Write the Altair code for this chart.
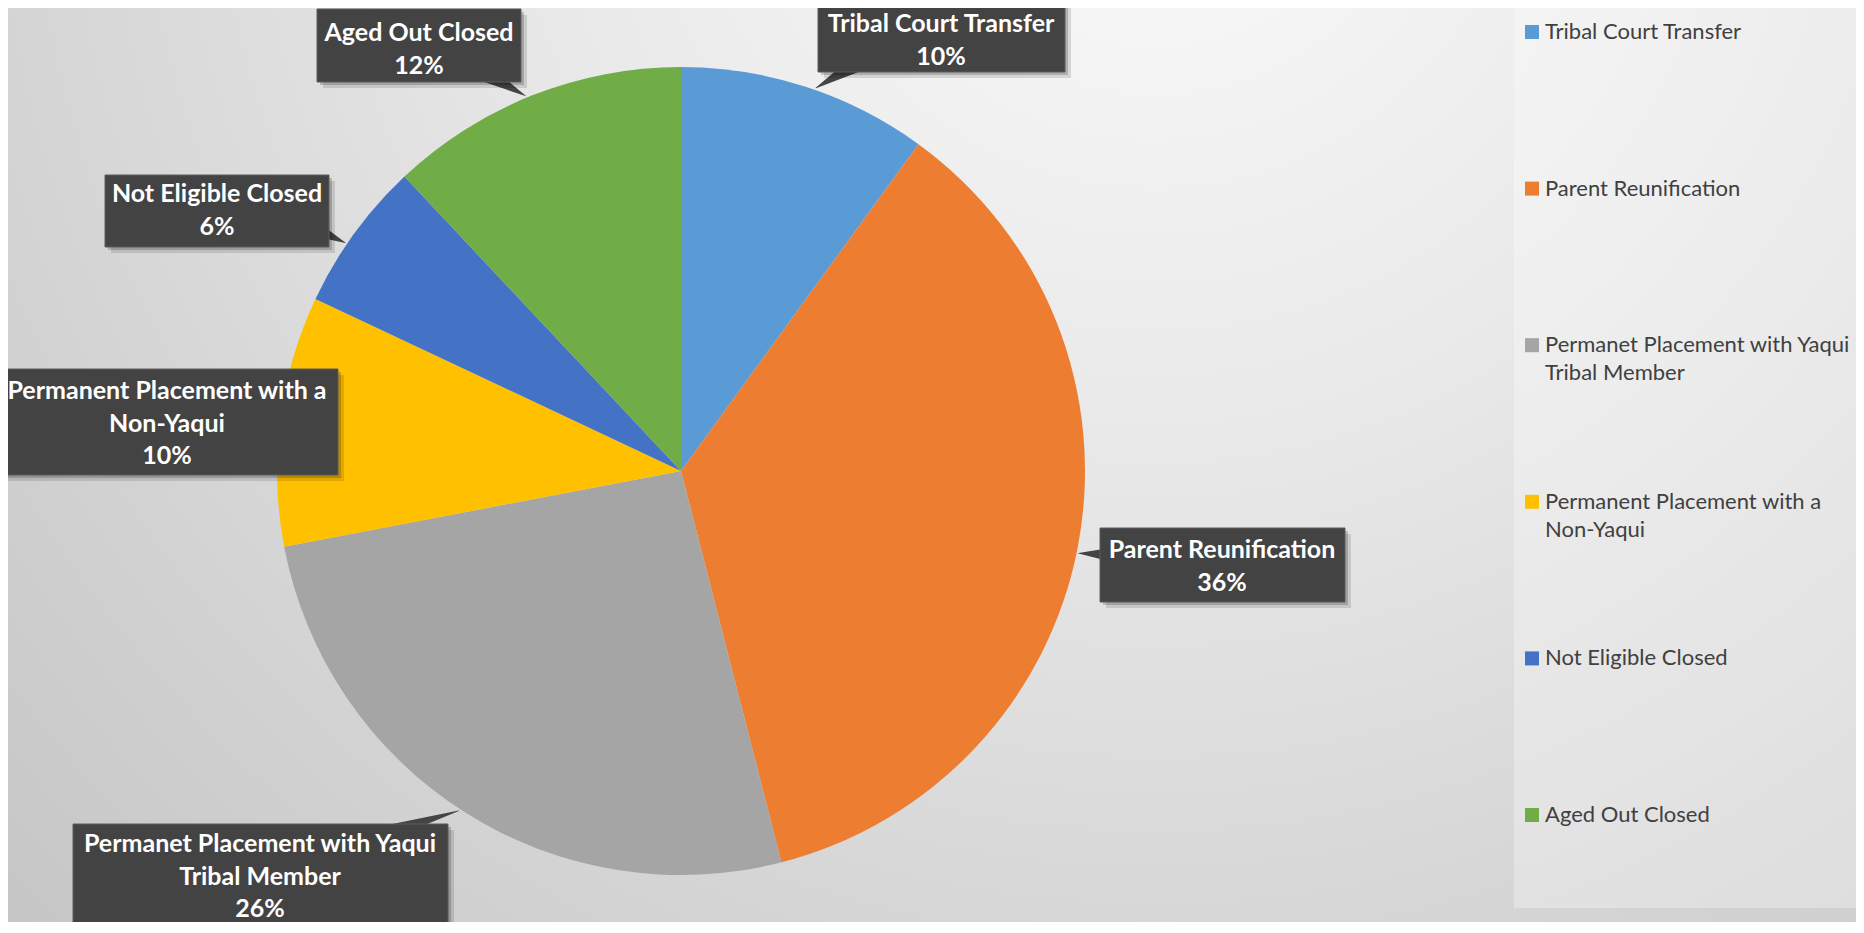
import math
import altair as alt
import pandas as pd

# ---------------- data ----------------
categories = [
    "Tribal Court Transfer",
    "Parent Reunification",
    "Permanet Placement with Yaqui Tribal Member",
    "Permanent Placement with a Non-Yaqui",
    "Not Eligible Closed",
    "Aged Out Closed",
]
counts = [5, 18, 13, 5, 3, 6]
colors = ["#5B9BD5", "#ED7D31", "#A5A5A5", "#FFC000", "#4472C4", "#70AD47"]

# how each name is broken in the data-label boxes and in the legend
box_name_lines = [
    ["Tribal Court Transfer"],
    ["Parent Reunification"],
    ["Permanet Placement with Yaqui", "Tribal Member"],
    ["Permanent Placement with a", "Non-Yaqui"],
    ["Not Eligible Closed"],
    ["Aged Out Closed"],
]
legend_name_lines = [
    ["Tribal Court Transfer"],
    ["Parent Reunification"],
    ["Permanet Placement with Yaqui", "Tribal Member"],
    ["Permanent Placement with a", "Non-Yaqui"],
    ["Not Eligible Closed"],
    ["Aged Out Closed"],
]

# ---------------- layout (page pixels) ----------------
W, H = 1848, 914
OFF = 8  # page margin


def P(v):
    return v - OFF


CX, CY, R = P(681), P(471), 404

# label boxes: x0, x1, y0, y1, text centre x, first-line y
box_layout = [
    (818, 1065, -10, 72, 941, 24),
    (1100, 1345, 528, 602, 1222, 550),
    (73, 448, 824, 960, 260, 844),
    (-10, 338, 369, 475, 167, 391),
    (105, 329, 175, 247, 217, 194),
    (317, 521, 9, 82, 419, 33),
]
BOX_LH = 32.5
# callout pointers: start point inside box, start width, tip angle on pie edge (deg)
pointer_layout = [
    (0, 880, 50, 26, 19.4),
    (1, 1140, 556, 26, 101.7),
    (2, 330, 850, 26, 213.2),
    (4, 300, 222, 22, 304.2),
    (5, 465, 62, 26, 337.5),
]
LEG_SQ_X, LEG_TX_X, LEG_Y0, LEG_STEP, LEG_LH = 1532, 1545, 32, 156.6, 28
PANEL = (1514, 1864, -10, 908)

FONT = "Lato"

# ---------------- frames ----------------
total = sum(counts)
pcts = [f"{round(v / total * 100)}%" for v in counts]

pie_df = pd.DataFrame({"cat": categories, "value": counts, "idx": list(range(len(categories)))})

box_rows, box_txt_rows = [], []
for i, (x0, x1, y0, y1, tx, ty) in enumerate(box_layout):
    box_rows.append({
        "cat": categories[i],
        "px": P(x0), "px2": P(x1), "py": P(y0), "py2": P(y1),
    })
    for j, line in enumerate(box_name_lines[i] + [pcts[i]]):
        box_txt_rows.append({"px": P(tx), "py": P(ty + j * BOX_LH), "txt": line})
box_df = pd.DataFrame(box_rows)
box_txt_df = pd.DataFrame(box_txt_rows)

ptr_rows = []
for i, sx, sy, w, ang in pointer_layout:
    a = math.radians(ang)
    tx = CX + (R + 2) * math.sin(a)
    ty = CY - (R + 2) * math.cos(a)
    ptr_rows.append({"pid": categories[i], "ord": 0, "px": P(sx), "py": P(sy), "w": w})
    ptr_rows.append({"pid": categories[i], "ord": 1, "px": tx, "py": ty, "w": 0.5})
ptr_df = pd.DataFrame(ptr_rows)

leg_sq = pd.DataFrame({
    "cat": categories,
    "px": [P(LEG_SQ_X)] * len(categories),
    "py": [P(LEG_Y0 + i * LEG_STEP) for i in range(len(categories))],
})
leg_txt_rows = []
for i, lines in enumerate(legend_name_lines):
    for j, line in enumerate(lines):
        leg_txt_rows.append({"px": P(LEG_TX_X), "py": P(LEG_Y0 + i * LEG_STEP + j * LEG_LH), "txt": line})
leg_txt = pd.DataFrame(leg_txt_rows)

one = pd.DataFrame({"a": [0]})

# ---------------- encodings ----------------
xsc = alt.Scale(domain=[0, W], range=[0, W], nice=False, zero=False)
ysc = alt.Scale(domain=[0, H], range=[0, H], nice=False, zero=False)
color = alt.Color("cat:N", scale=alt.Scale(domain=categories, range=colors), legend=None)

bg = alt.Chart(one).mark_rect(
    fill={
        "gradient": "radial",
        "x1": 0.62, "y1": 0.15, "r1": 0,
        "x2": 0.62, "y2": 0.15, "r2": 0.95,
        "stops": [
            {"offset": 0, "color": "#fbfbfb"},
            {"offset": 0.35, "color": "#e9e9e9"},
            {"offset": 0.7, "color": "#d2d2d2"},
            {"offset": 1, "color": "#c0c0c0"},
        ],
    }
).encode(x=alt.value(0), x2=alt.value(W), y=alt.value(0), y2=alt.value(H))

panel = alt.Chart(one).mark_rect(fill="white", opacity=0.3).encode(
    x=alt.value(P(PANEL[0])), x2=alt.value(P(PANEL[1])),
    y=alt.value(P(PANEL[2])), y2=alt.value(P(PANEL[3])),
)

pie = alt.Chart(pie_df).mark_arc(outerRadius=R).encode(
    theta=alt.Theta("value:Q", stack=True),
    color=color,
    order=alt.Order("idx:Q"),
    x=alt.value(CX),
    y=alt.value(CY),
)

pointers = alt.Chart(ptr_df).mark_trail(color="#444444").encode(
    x=alt.X("px:Q", scale=xsc, axis=None),
    y=alt.Y("py:Q", scale=ysc, axis=None),
    size=alt.Size("w:Q", scale=None, legend=None),
    detail="pid:N",
    order="ord:Q",
)


def shadow(off, op):
    return alt.Chart(box_df).transform_calculate(
        sx=f"datum.px + {off}", sx2=f"datum.px2 + {off}",
        sy=f"datum.py + {off}", sy2=f"datum.py2 + {off}",
    ).mark_rect(fill="black", opacity=op).encode(
        x=alt.X("sx:Q", scale=xsc, axis=None), x2="sx2:Q",
        y=alt.Y("sy:Q", scale=ysc, axis=None), y2="sy2:Q",
    )


boxes = alt.Chart(box_df).mark_rect(fill="#434343", stroke="#5c5c5c", strokeWidth=1).encode(
    x=alt.X("px:Q", scale=xsc, axis=None), x2="px2:Q",
    y=alt.Y("py:Q", scale=ysc, axis=None), y2="py2:Q",
)

box_text = alt.Chart(box_txt_df).mark_text(
    font=FONT, fontWeight="bold", fontSize=25, color="white",
    align="center", baseline="middle",
).encode(
    x=alt.X("px:Q", scale=xsc, axis=None),
    y=alt.Y("py:Q", scale=ysc, axis=None),
    text="txt:N",
)

legend_sq = alt.Chart(leg_sq).mark_square(size=196, opacity=1, filled=True).encode(
    x=alt.X("px:Q", scale=xsc, axis=None),
    y=alt.Y("py:Q", scale=ysc, axis=None),
    color=color,
)

legend_tx = alt.Chart(leg_txt).mark_text(
    font=FONT, fontSize=22, color="#404040", align="left", baseline="middle",
).encode(
    x=alt.X("px:Q", scale=xsc, axis=None),
    y=alt.Y("py:Q", scale=ysc, axis=None),
    text="txt:N",
)

chart = alt.layer(
    bg, panel, pie, pointers,
    shadow(6, 0.12), shadow(3, 0.18),
    boxes, box_text, legend_sq, legend_tx,
).properties(
    width=W, height=H, padding=0, autosize="none", background="white"
).configure_view(stroke=None)

chart.save("out.html", embed_options={"renderer": "svg", "actions": False})
